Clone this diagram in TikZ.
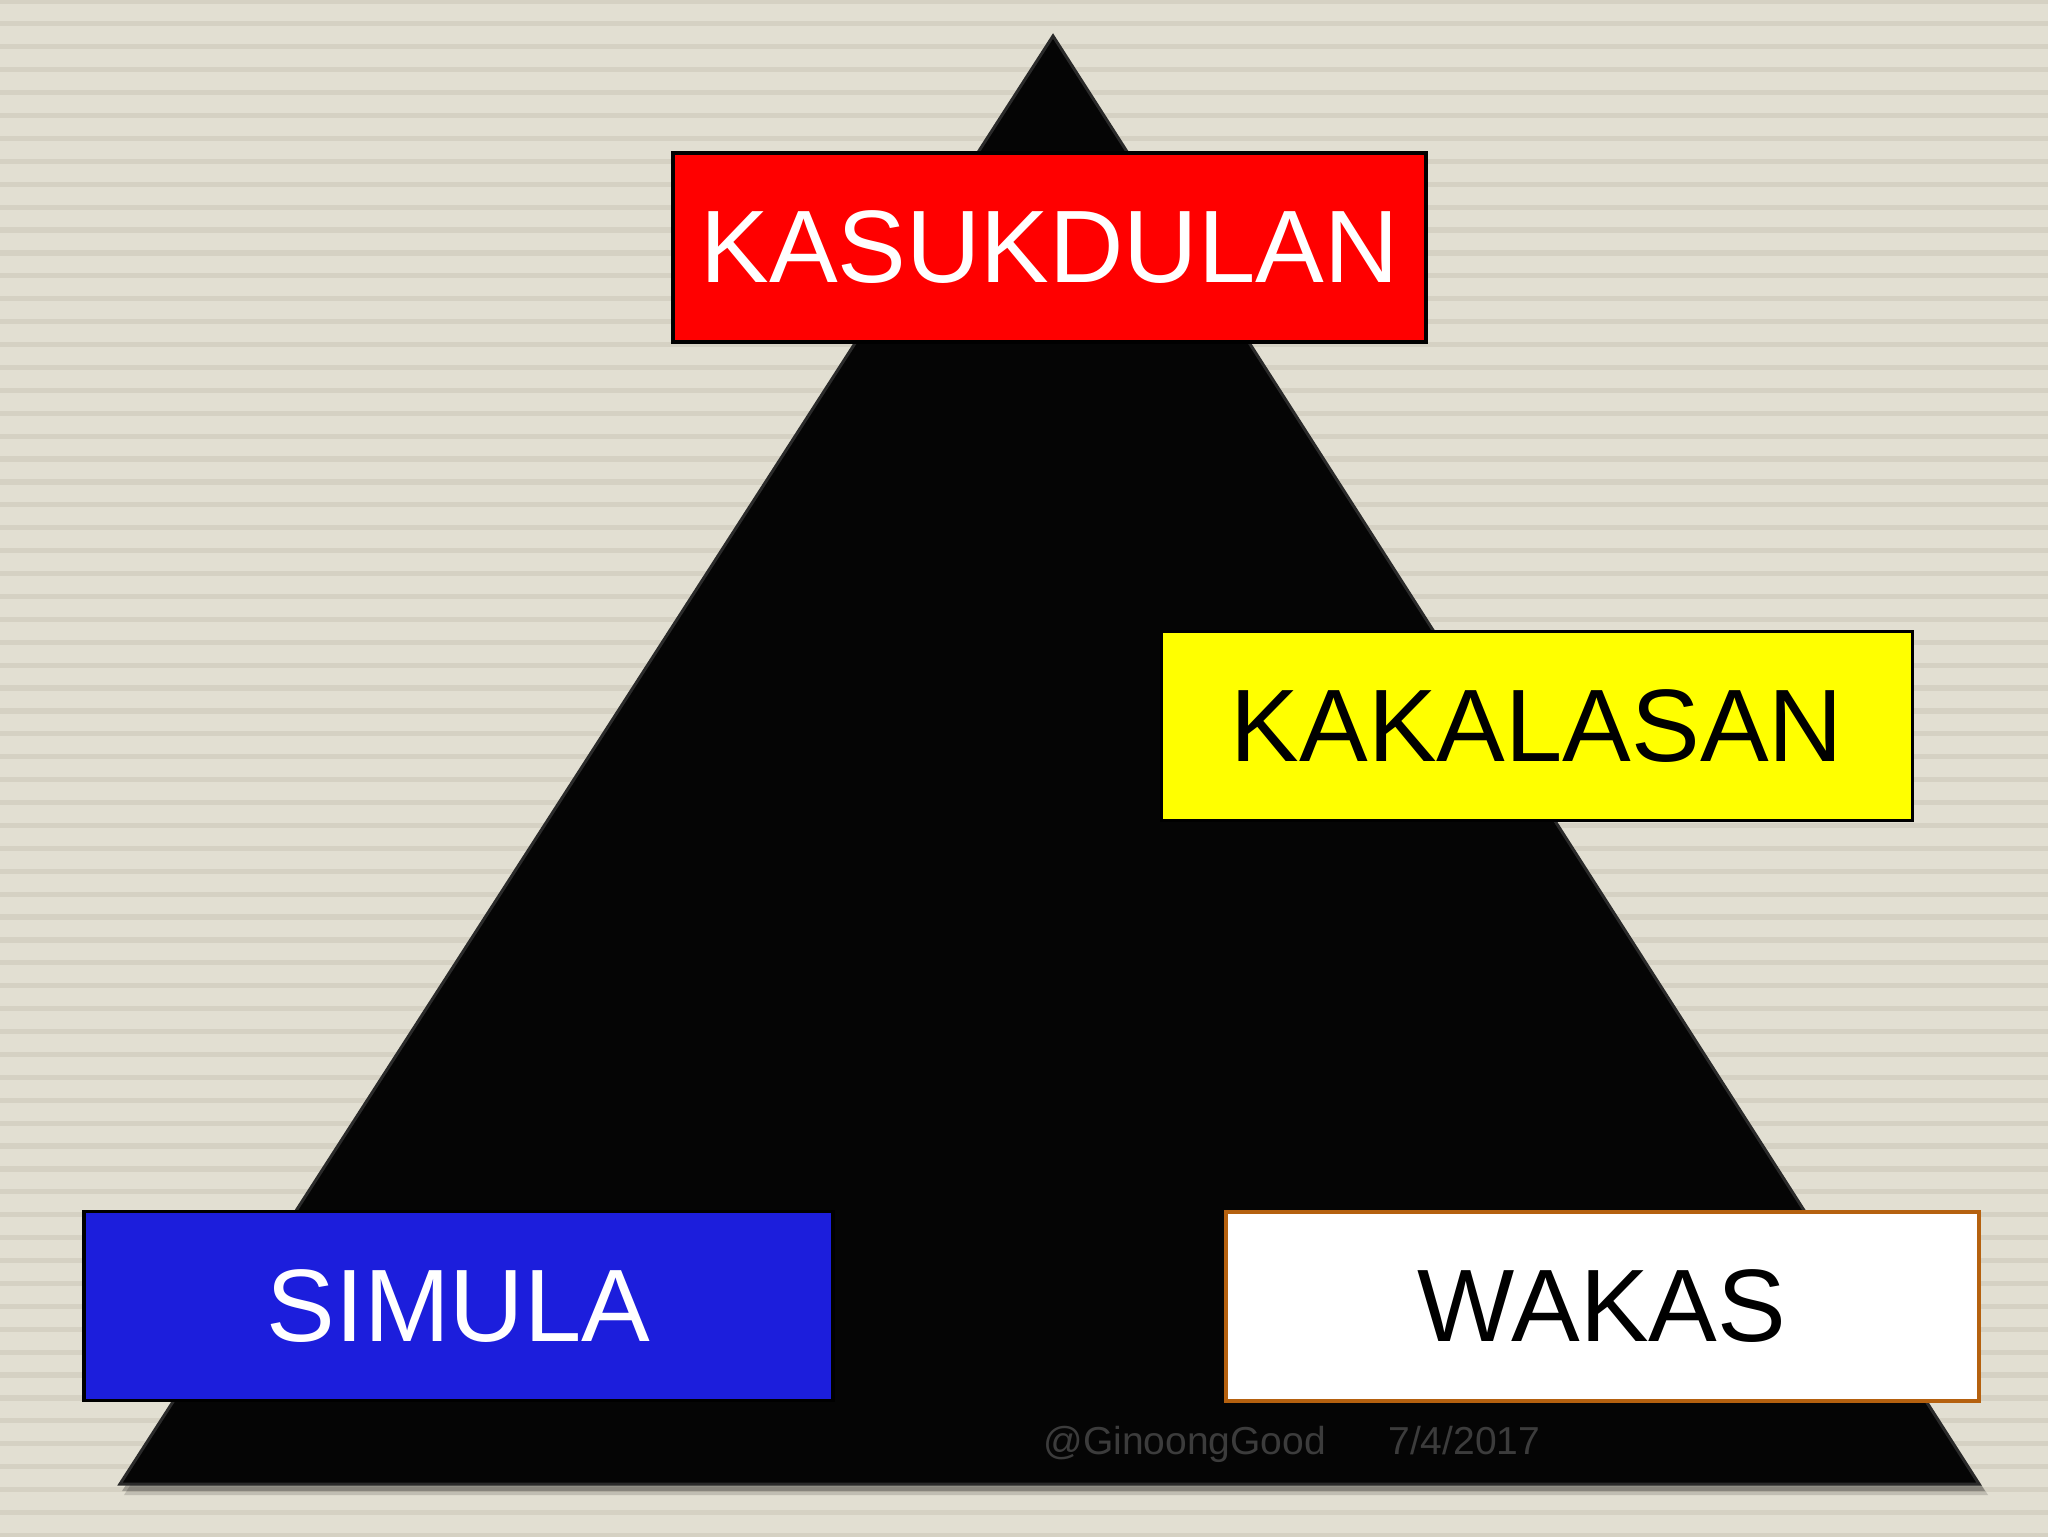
\documentclass[tikz,border=0pt]{standalone}
\usepackage{fontspec}
\setmainfont{Liberation Sans}
\definecolor{bgbeige}{HTML}{E2DFD2}
\definecolor{bgstripe}{HTML}{D5D1C3}
\definecolor{boxred}{HTML}{FF0000}
\definecolor{boxyellow}{HTML}{FFFF00}
\definecolor{boxblue}{HTML}{1C1EDC}
\definecolor{boxorange}{HTML}{B5610F}
\definecolor{pyramid}{HTML}{050505}
\definecolor{pyrim}{HTML}{2A2A2A}
\definecolor{footgray}{HTML}{3C3C3C}
\tikzset{
  labelbox/.style={rectangle, inner sep=0pt, minimum width=753*0.5pt, minimum height=189*0.5pt,
    font=\fontsize{51.5}{60}\selectfont, line width=1.6pt},
  footer/.style={inner sep=0pt, text=footgray, font=\fontsize{19.5}{23}\selectfont},
}
\begin{document}
\begin{tikzpicture}[x=0.5pt,y=-0.5pt]
\useasboundingbox (0,0) rectangle (2048,1536);
% background
\fill[bgbeige] (0,0) rectangle (2048,1536);
\foreach \i in {0,...,67}{
  \fill[bgstripe] (0,{1+22.9*\i-2.6}) rectangle (2048,{1+22.9*\i+2.6});
}
% pyramid
\coordinate (apex) at (1053,36);
\coordinate (bl) at (120,1484);
\coordinate (br) at (1979,1484);
\fill[black, opacity=0.25] ([shift={(4,6)}]apex) -- ([shift={(2,7)}]bl) -- ([shift={(6,7)}]br) -- cycle;
\fill[black, opacity=0.15] ([shift={(6,10)}]apex) -- ([shift={(4,11)}]bl) -- ([shift={(9,11)}]br) -- cycle;
\filldraw[fill=pyramid, draw=pyrim, line width=1.5pt, line join=miter] (apex) -- (bl) -- (br) -- cycle;
% label boxes
\node[labelbox, fill=boxred, draw=black, text=white] (top) at (1049.5,247.5) {KASUKDULAN};
\node[labelbox, fill=boxyellow, draw=black, text=black, minimum width=751*0.5pt] (mid) at (1537,726) {KAKALASAN};
\node[labelbox, fill=boxblue, draw=black, text=white, minimum width=749*0.5pt] (start) at (458.5,1306) {SIMULA};
\node[labelbox, fill=white, draw=boxorange, text=black, minimum width=753*0.5pt, line width=2pt] (end) at (1602,1306) {WAKAS};
% footer
\node[footer, anchor=base west] (author) at (1043,1454) {@GinoongGood};
\node[footer, anchor=base west] (date) at (1388,1454) {7/4/2017};
\end{tikzpicture}
\end{document}
